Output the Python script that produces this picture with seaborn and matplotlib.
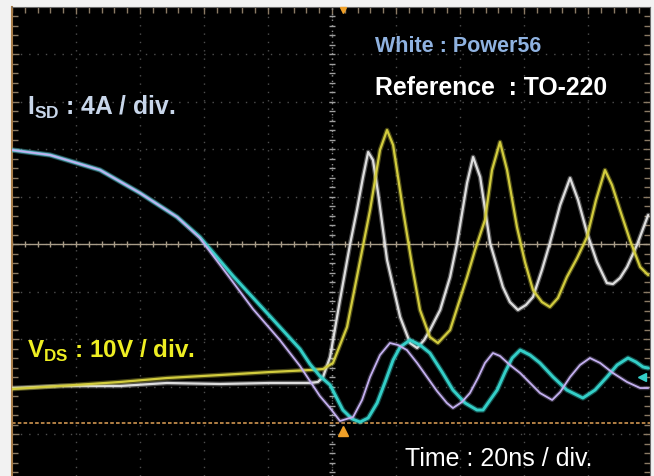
import numpy as np
import pandas as pd
import matplotlib
matplotlib.use("Agg")
import matplotlib.pyplot as plt
import matplotlib.patheffects as pe
import seaborn as sns

# ---- data: time in ns (20 ns/div), level in divisions ----
t_yellow = [-100, -85, -66.3, -51.6, -35, -19.4, -6.9, -2.8, 0.3, 4.7, 11.9, 15, 17.2, 19.1,
            22.2, 25, 27.5, 30.6, 33.1, 36.9, 39.4, 42.2, 44.7, 47.8, 50, 52.5, 54.7, 57.8,
            60.3, 62.8, 65.6, 68.1, 70.6, 73.4, 76.6, 79.7, 82.5, 85.3, 87.5, 90, 93.1, 96.3, 98.8]
v_yellow = [-3.053, -2.989, -2.905, -2.821, -2.758, -2.695, -2.653, -2.632, -2.505, -1.747, 0.716,
            1.979, 2.400, 2.084, 0.716, -0.442, -1.389, -1.958, -2.084, -1.811, -1.284, -0.695,
            -0.126, 0.505, 1.558, 2.147, 1.558, 0.358, -0.379, -0.968, -1.221, -1.326, -1.137,
            -0.695, -0.295, 0.147, 0.926, 1.558, 1.242, 0.716, 0.084, -0.484, -0.653]

t_white = [-100, -85, -66.3, -51.6, -35, -19.4, -6.9, -4.4, -2.8, -0.6, 2.5, 5.6, 7.8, 9.7, 11.3,
           12.8, 14.4, 17.2, 21.3, 24.4, 26.6, 28.8, 30.6, 33.8, 36.9, 39.1, 42.2, 44.1, 46.3,
           49.4, 53.4, 55.6, 58.1, 60.6, 62.8, 65.6, 68.1, 71.3, 74.4, 76.9, 79.7, 82.8, 85.9,
           87.8, 90, 92.2, 95.3, 98.8]
v_white = [-3.032, -2.989, -2.989, -2.926, -2.947, -2.926, -2.926, -2.905, -2.800, -2.379, -1.179,
           -0.021, 0.716, 1.411, 1.937, 1.768, 1.074, -0.337, -1.537, -2.084, -2.189, -2.021,
           -1.811, -1.389, -0.695, 0.021, 1.284, 1.832, 1.411, 0.021, -0.905, -1.221, -1.389,
           -1.284, -1.116, -0.547, 0.021, 0.821, 1.389, 0.926, 0.232, -0.379, -0.821, -0.842,
           -0.716, -0.484, -0.021, 0.611]

t_lav = [-100, -88.1, -72.5, -60, -48.4, -41.3, -31.9, -24.7, -16.3, -10, -6.9, -3.8, -0.6, 2.5,
         6.6, 9.4, 11.9, 15, 18.1, 20.6, 23.4, 26.6, 29.7, 32.8, 35.9, 37.8, 40.6, 43.1, 45.6,
         47.8, 50.3, 52.5, 55.6, 58.8, 61.9, 65, 68.8, 71.3, 74.4, 77.5, 80.6, 83.8, 87.8, 92.2,
         96.3, 98.8]
i_lav = [1.979, 1.874, 1.558, 1.074, 0.568, 0.126, -0.716, -1.368, -2.021, -2.568, -2.884, -3.200,
         -3.453, -3.726, -3.642, -3.284, -2.800, -2.337, -2.084, -2.126, -2.232, -2.505, -2.800,
         -3.095, -3.347, -3.453, -3.326, -3.137, -2.821, -2.505, -2.295, -2.358, -2.547, -2.716,
         -2.926, -3.137, -3.284, -3.116, -2.800, -2.547, -2.400, -2.505, -2.716, -2.905, -3.032,
         -3.032]

t_cyan = [-100, -88.1, -72.5, -60, -48.4, -41.3, -30.9, -20.3, -10, -6.9, -3.8, -0.6, 3.4, 6.3,
          8.8, 11.3, 14.1, 16.6, 19.1, 21.3, 24.4, 27.5, 30.6, 34.4, 37.8, 41.6, 45.3, 47.2, 49.4,
          51.6, 54.1, 56.3, 58.8, 61.9, 65, 69.1, 73.4, 78.4, 82.2, 85.9, 89.1, 92.5, 95, 97.2, 98.8]
i_cyan = [1.979, 1.874, 1.558, 1.074, 0.568, 0.147, -0.674, -1.453, -2.211, -2.526, -2.779, -2.968,
          -3.495, -3.684, -3.747, -3.663, -3.347, -2.905, -2.442, -2.168, -2.021, -2.126, -2.295,
          -2.695, -3.074, -3.347, -3.495, -3.495, -3.284, -3.074, -2.695, -2.400, -2.232, -2.337,
          -2.505, -2.800, -3.074, -3.242, -3.074, -2.800, -2.547, -2.400, -2.484, -2.589, -2.611]

trigger_time = 3.4
ground_level = -3.77

label_isd = r"$\mathbf{I}_{\mathbf{SD}}$ : 4A / div."
label_vds = r"$\mathbf{V}_{\mathbf{DS}}$ : 10V / div."
label_white = "White : Power56"
label_ref = "Reference  : TO-220"
label_time = "Time : 20ns / div."

# ---- style ----
sns.set_style("dark")
plt.rcParams['font.family'] = ['Liberation Sans', 'DejaVu Sans']
plt.rcParams['mathtext.fontset'] = 'custom'
plt.rcParams['mathtext.rm'] = 'Liberation Sans'
plt.rcParams['mathtext.bf'] = 'Liberation Sans:bold'

W, H = 654, 476
fig = plt.figure(figsize=(W / 100, H / 100), dpi=100, facecolor='#f2f2f2')
ax = fig.add_axes([12 / W, 0, 638 / W, 469 / H])
ax.set_facecolor('black')
ax.set_xlim(-100, 99.375)
ax.set_ylim(-4.884, 4.99)

# grid
ax.set_xticks(np.arange(-80, 100, 20))
ax.set_yticks(np.arange(-4, 5, 1))
ax.set_xticks(np.arange(-100, 100, 4), minor=True)
ax.set_yticks(np.arange(-4.8, 5, 0.2), minor=True)
ax.grid(which='major', color='#4e4e4e', lw=1.0, ls=(0, (1, 5)))
ax.grid(which='minor', visible=False)
ax.tick_params(which='both', direction='in', length=4, width=1,
               left=True, right=True, top=True, bottom=False,
               labelleft=False, labelbottom=False, colors='#8a7a64')
ax.tick_params(which='major', length=5)
ax.spines['left'].set_color('#a87c48')
ax.spines['left'].set_linewidth(1.5)
for side in ['top', 'right']:
    ax.spines[side].set_color('#6a6a6a')
ax.spines['bottom'].set_visible(False)

# center cross lines with ticks
ax.axhline(0, color='#a89c88', lw=1.0)
ax.axvline(0, color='#8c8c8c', lw=1.0, ls=(0, (1, 3)))
tick_t = np.arange(-100, 100, 4)
tick_v = np.arange(-4.8, 5, 0.2)
ax.plot(tick_t, np.zeros_like(tick_t), ls='none', marker='|', ms=5, color='#a89c88', mew=1)
ax.plot(np.zeros_like(tick_v), tick_v, ls='none', marker='_', ms=5, color='#a0a0a0', mew=1)

# ground reference dashed line
ax.axhline(ground_level, color='#c08a4a', lw=1.3, ls=(0, (2, 1.2)))

# traces
def trace(t, v, color, lw, z, glow=0.35):
    df = pd.DataFrame({'t': t, 'v': v})
    sns.lineplot(data=df, x='t', y='v', ax=ax, color=color, lw=lw, sort=False,
                 estimator=None, zorder=z,
                 path_effects=[pe.Stroke(linewidth=lw + 1.8, foreground=color, alpha=glow),
                               pe.Normal()])

trace(t_white, v_white, '#dedede', 1.6, 5)
trace(t_yellow, v_yellow, '#d2cc3e', 1.6, 6)
trace(t_cyan, i_cyan, '#34cfc8', 2.1, 7)
trace(t_lav, i_lav, '#c4b0f0', 1.3, 8, glow=0.25)

ax.set_xlabel('')
ax.set_ylabel('')

# markers
ax.plot([trigger_time], [-3.93], marker='^', ms=7, color='#f0a028', ls='none', zorder=10)
ax.plot([trigger_time], [4.93], marker='v', ms=5, color='#f0a028', ls='none', zorder=10,
        clip_on=False)
ax.plot([96.9], [-2.8], marker='<', ms=6, color='#34cfc8', ls='none', zorder=10)

# texts
def ftext(x, y, s, **kw):
    fig.text(x / W, 1 - y / H, s, va='baseline', ha='left', **kw)

ftext(27, 115, label_isd, fontsize=17.7, fontweight='bold', color='#c8d6ea')
ftext(27, 358, label_vds, fontsize=17.5, fontweight='bold', color='#eeee22')
ftext(375, 52, label_white, fontsize=15.5, fontweight='bold', color='#8fb2e0')
ftext(375, 95, label_ref, fontsize=17.8, fontweight='bold', color='white')
ftext(405, 466, label_time, fontsize=18, color='white')

fig.savefig('out.png', dpi=100, facecolor=fig.get_facecolor())
